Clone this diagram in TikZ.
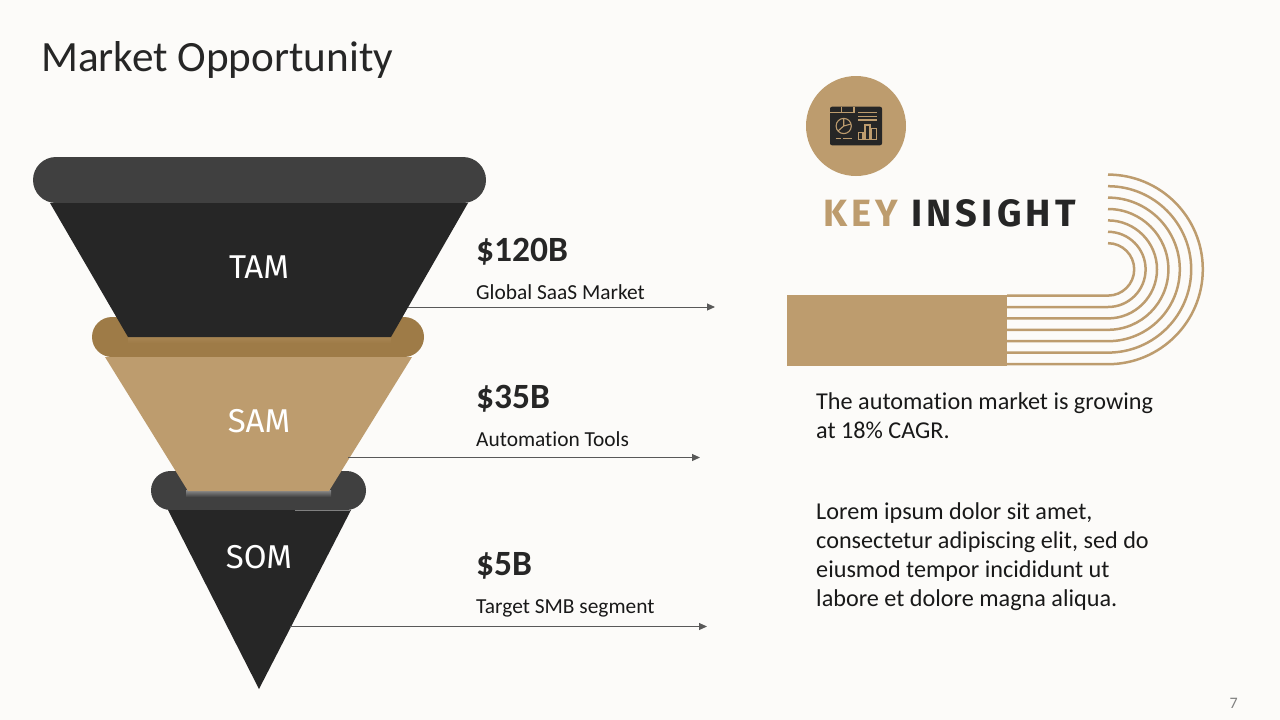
\documentclass[tikz,border=0pt]{standalone}
\usepackage{fontspec}
\setmainfont[Ligatures=NoCommon]{Carlito}
\newfontfamily\dinfont{Fira Sans}
\newfontfamily\dinspaced[LetterSpace=11]{Fira Sans}
\usetikzlibrary{arrows.meta}
\definecolor{pagebg}{HTML}{FCFBF9}
\definecolor{ink}{HTML}{262626}
\definecolor{rimdark}{HTML}{404040}
\definecolor{tan}{HTML}{BD9C6E}
\definecolor{rimtan}{HTML}{9E7B47}
\definecolor{leader}{HTML}{595959}
\tikzset{
  x=1pt,y=-1pt,
  level/.style={font=\dinfont\fontsize{33}{33}\selectfont,text=white,anchor=base,inner sep=0pt},
  figure/.style={font=\bfseries\fontsize{35.5}{35.5}\selectfont,text=ink,anchor=base west,inner sep=0pt},
  caption/.style={font=\fontsize{21.4}{21.4}\selectfont,text=black!90,anchor=base west,inner sep=0pt},
  body/.style={font=\fontsize{24.2}{24.2}\selectfont,text=black!90,anchor=base west,inner sep=0pt},
  leaderline/.style={draw=leader,line width=1pt,-{Triangle[length=8pt,width=7pt]}},
  arcline/.style={draw=tan,line width=2.5pt},
  iconline/.style={draw=tan,line width=1.1pt},
}
\begin{document}
\begin{tikzpicture}
\useasboundingbox (0,0) rectangle (1280,720);
\fill[pagebg] (0,0) rectangle (1280,720);

% title
\node[anchor=base west,inner sep=0pt,font=\fontsize{43.2}{43.2}\selectfont,text=black!85] (title) at (41,71) {Market Opportunity};

% SOM
\fill[rimdark,rounded corners=19.5pt] (151,471) rectangle (366,510);
\fill[ink] (168,510) -- (351,510) -- (259,689) -- cycle;
\draw[gray,line width=0.6pt] (295,510.5) -- (350,510.5);
\shade[top color=rimdark!60!white,bottom color=rimdark] (186,490) rectangle (331,497);
% SAM
\fill[rimtan,rounded corners=20pt] (92,317) rectangle (424,357);
\fill[tan] (105,357) -- (412,357) -- (329,491) -- (188,491) -- cycle;
\shade[top color=rimtan!70!tan,bottom color=rimtan] (128,337) rectangle (391,343);
% TAM
\fill[rimdark,rounded corners=23pt] (33,157) rectangle (486,203);
\fill[ink] (50,203) -- (468,203) -- (391,337) -- (128,337) -- cycle;

\node[level] (tam) at (259,278) {TAM};
\node[level] (sam) at (259,432) {SAM};
\node[level] (som) at (259,568) {SOM};

% leaders
\coordinate (a1) at (408,307); \coordinate (a2) at (715,307);
\coordinate (b1) at (348,457.5); \coordinate (b2) at (700,457.5);
\coordinate (c1) at (290,626.5); \coordinate (c2) at (707,626.5);
\draw[leaderline] (a1) -- (a2);
\draw[leaderline] (b1) -- (b2);
\draw[leaderline] (c1) -- (c2);

\node[figure] (v1) at (476,261) {\$120B};
\node[caption] (t1) at (476,299) {Global SaaS Market};
\node[figure] (v2) at (476,408) {\$35B};
\node[caption] (t2) at (476,446) {Automation Tools};
\node[figure] (v3) at (476,575) {\$5B};
\node[caption] (t3) at (476,613) {Target SMB segment};

% key insight graphic
\fill[tan] (787,295) rectangle (1007,366);
\foreach \r in {26.2,37.6,49,60.4,71.8,83.2,94.8}{
  \draw[arcline] (1007,269.4+\r) -- (1108,269.4+\r) arc[start angle=90,end angle=-90,radius=\r];
}
\node[anchor=base west,inner sep=0pt,font=\dinspaced\bfseries\fontsize{38}{38}\selectfont] (ki) at (823,226) {\textcolor{tan}{KEY} \textcolor{ink}{INSIGHT}};

% icon
\fill[tan] (856,126) circle[radius=50];
\fill[ink,rounded corners=2pt] (830,106.7) rectangle (882,145.3);
\draw[iconline] (830,112.5) -- (854,112.5) (841.5,106.7) -- (841.5,112.5) (854,106.7) -- (854,112.5);
\draw[iconline] (843.7,126) circle[radius=7.6];
\draw[iconline] (843.7,126) -- (843.7,118.4) (843.7,126) -- (851,124) (843.7,126) -- (838,131);
\draw[iconline] (835.7,138.7) -- (840.7,138.7) (842.5,138.7) -- (852,138.7);
\draw[iconline] (858,112.7) -- (877,112.7) (858,116.7) -- (877,116.7) (858,120) -- (877,120);
\draw[iconline] (858.2,132.7) rectangle (863,139.3) (865,125) rectangle (870,139.3) (871.8,128.3) rectangle (876.7,139.3);

% body
\node[body] (p1) at (816,409) {The automation market is growing};
\node[body] (p2) at (816,438) {at 18\% CAGR.};
\node[body] (q1) at (816,519) {Lorem ipsum dolor sit amet,};
\node[body] (q2) at (816,548) {consectetur adipiscing elit, sed do};
\node[body] (q3) at (816,577) {eiusmod tempor incididunt ut};
\node[body] (q4) at (816,606) {labore et dolore magna aliqua.};

\node[anchor=base east,inner sep=0pt,font=\fontsize{16}{16}\selectfont,text=black!50] (pg) at (1238,708) {7};
\end{tikzpicture}
\end{document}
